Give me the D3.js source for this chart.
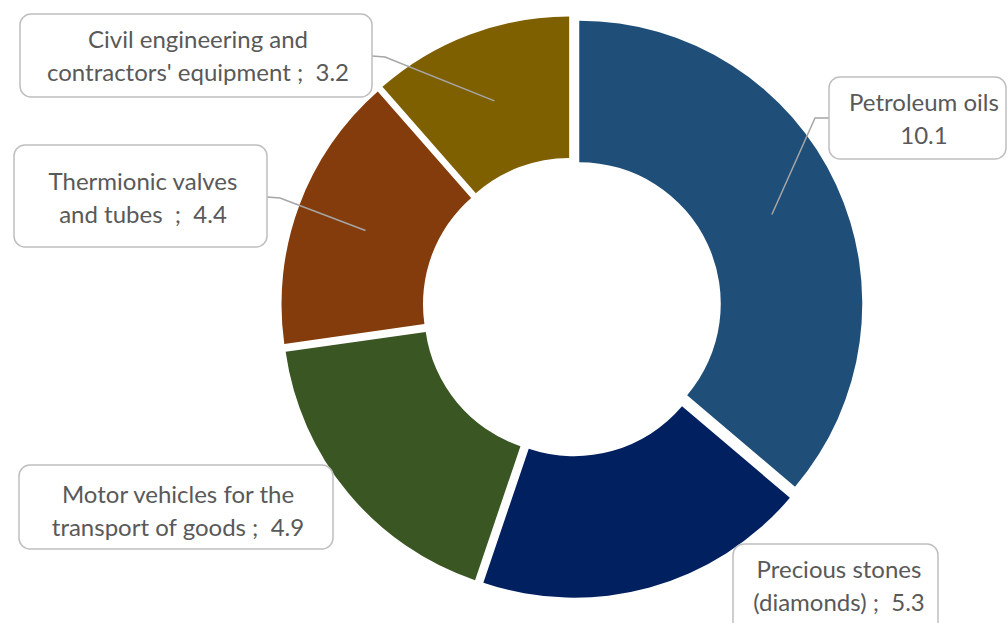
<!DOCTYPE html>
<html>
<head>
<meta charset="utf-8">
<script src="https://cdn.jsdelivr.net/npm/d3@7/dist/d3.min.js"></script>
<style>
  html, body { margin: 0; padding: 0; background: #ffffff; }
  svg { display: block; }
  text { font-family: Lato, "Open Sans", sans-serif; fill: #595959; white-space: pre; }
</style>
</head>
<body>
<svg id="chart" width="1008" height="623"></svg>
<script>
// Export categories and their values, clockwise from twelve o'clock
const categories = [
  "Petroleum oils",
  "Precious stones (diamonds)",
  "Motor vehicles for the transport of goods",
  "Thermionic valves and tubes",
  "Civil engineering and contractors' equipment"
];
const values = [10.1, 5.3, 4.9, 4.4, 3.2];
const colors = ["#1F4E79", "#002060", "#3A5623", "#843C0C", "#7F6000"];

// Data label text, two lines each; {v} is replaced by the slice value
const labelLines = [
  ["Petroleum oils", "{v}"],
  ["Precious stones", "(diamonds) ;  {v}"],
  ["Motor vehicles for the", "transport of goods ;  {v}"],
  ["Thermionic valves", "and tubes  ;  {v}"],
  ["Civil engineering and", "contractors' equipment ;  {v}"]
];

// Label callout layout: box, text anchor x, first baseline, leader attach side
const labelLayout = [
  { x0: 829, y0: 77,  x1: 1006, y1: 159, tx: 924, ty: 111, leader: "left",  ly: 118 },
  { x0: 733, y0: 544, x1: 938,  y1: 640, tx: 839, ty: 578, leader: null },
  { x0: 19,  y0: 465, x1: 333,  y1: 549, tx: 178, ty: 503, leader: null },
  { x0: 14,  y0: 145, x1: 267,  y1: 247, tx: 143, ty: 190, leader: "right", ly: 197 },
  { x0: 20,  y0: 14,  x1: 372,  y1: 97,  tx: 198, ty: 48,  leader: "right", ly: 56 }
];

const cx = 572, cy = 307;
const outerR = 283, innerR = 141.5;
const explode = 8;
const lineGap = 33;

const svg = d3.select("#chart");

const pie = d3.pie().sort(null).value(d => d.value).startAngle(0).endAngle(2 * Math.PI);
const arc = d3.arc().innerRadius(innerR).outerRadius(outerR);

const data = categories.map((c, i) => ({ name: c, value: values[i], color: colors[i], i }));
const arcs = pie(data);

// Offset of each exploded slice along its bisector
function offset(d) {
  const mid = (d.startAngle + d.endAngle) / 2;
  return [Math.sin(mid) * explode, -Math.cos(mid) * explode];
}

const g = svg.append("g").attr("transform", `translate(${cx},${cy})`);

g.selectAll("path.slice")
  .data(arcs)
  .join("path")
  .attr("class", "slice")
  .attr("d", arc)
  .attr("fill", d => d.data.color)
  .attr("transform", d => {
    const [dx, dy] = offset(d);
    return `translate(${dx},${dy})`;
  });

// Leader lines from label boxes to slice centroids
const leaderG = svg.append("g");
arcs.forEach((d, i) => {
  const L = labelLayout[i];
  if (!L.leader) return;
  const [dx, dy] = offset(d);
  const c = arc.centroid(d);
  const ex = cx + c[0] + dx, ey = cy + c[1] + dy;
  let pts;
  if (L.leader === "left") {
    pts = [[L.x0, L.ly], [L.x0 - 14, L.ly], [ex, ey]];
  } else {
    pts = [[L.x1, L.ly], [L.x1 + 13, L.ly + 1], [ex, ey]];
  }
  leaderG.append("path")
    .attr("d", d3.line()(pts))
    .attr("fill", "none")
    .attr("stroke", "#A6A6A6")
    .attr("stroke-width", 1.5);
});

// Label boxes and text
const labelG = svg.append("g");
arcs.forEach((d, i) => {
  const L = labelLayout[i];
  labelG.append("rect")
    .attr("x", L.x0).attr("y", L.y0)
    .attr("width", L.x1 - L.x0).attr("height", L.y1 - L.y0)
    .attr("rx", 11).attr("ry", 11)
    .attr("fill", "#ffffff")
    .attr("stroke", "#BFBFBF")
    .attr("stroke-width", 1.5);
  const t = labelG.append("text")
    .attr("text-anchor", "middle")
    .attr("font-size", 24);
  labelLines[i].forEach((line, k) => {
    t.append("tspan")
      .attr("x", L.tx)
      .attr("y", L.ty + k * lineGap)
      .text(line.replace("{v}", d3.format(".1f")(d.data.value)));
  });
});
</script>
</body>
</html>
